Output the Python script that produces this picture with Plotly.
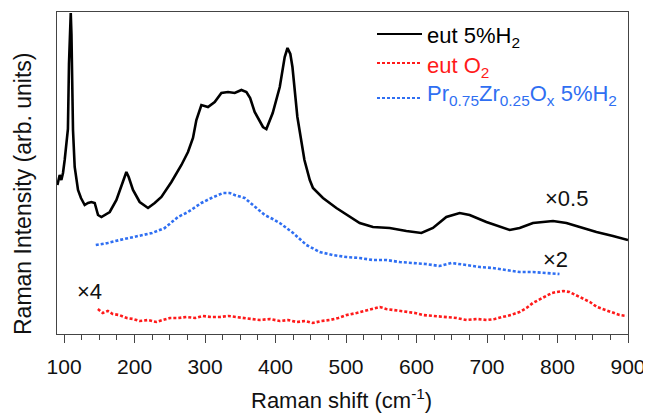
import plotly.graph_objects as go

# ---------------- data ----------------
eut_h2_shift = [90.6, 93.8, 96.2, 98.5, 100.9, 103, 105.5, 107, 108.3, 109.5, 110.5, 111.5,
                112.7, 115.1, 119.8, 124, 129.3, 134, 138.8, 143.5, 148.2, 153, 157.7, 164.8,
                174.3, 181.3, 188.4, 191.7, 197.8, 207.3, 219.1, 228.6, 238.1, 252.3, 266.5,
                275.8, 282.9, 287.7, 294.8, 304.2, 313.7, 323.2, 332.6, 342.1, 351.6, 358.7,
                364, 370.4, 382.2, 387, 396, 406, 413, 417, 421, 424, 431, 441, 448.6, 453.1,
                467.3, 486.3, 505.2, 519.4, 538.2, 561.9, 585.6, 606.9, 623.3, 642.3, 661.2,
                675.4, 699.1, 732.2, 746.3, 765.2, 793.6, 812.6, 831.5, 855.2, 878.7, 897.7, 900]
eut_h2_int = [149, 159, 154, 161, 174, 188, 205, 270, 315, 321, 300, 250,
              204, 167, 144, 136, 129, 131, 132, 131, 119, 117, 119, 122,
              134, 147, 162, 157, 144, 132, 126, 131, 137, 152, 169,
              182, 196, 214, 229, 227, 232, 241, 242, 241, 244, 242,
              236, 222, 207, 205, 221, 247, 277, 286, 280, 267, 217, 174, 154, 146,
              136, 126, 117, 111, 107, 106, 103, 101, 106, 117, 121,
              119, 112, 104, 106, 111, 113, 111, 107, 102, 98, 95, 94]

eut_o2_shift = [148, 155, 162, 169, 178, 189, 198, 207, 219, 231, 240, 250, 262, 274, 286, 297,
                309, 321, 333, 345, 361, 377, 392, 406, 418, 430, 442, 453, 465, 477, 489,
                501, 515, 532, 548, 557, 566, 576, 586, 598, 609, 626, 643, 657, 671, 686,
                700, 711, 722, 734, 746, 756, 765, 775, 785, 792, 799, 808, 817, 826, 836,
                846, 856, 867, 878, 888, 898]
eut_o2_int = [25, 21, 23, 20, 19, 16, 15, 13, 14, 12, 14, 16, 16, 17, 16, 18,
              17, 17, 18, 17, 16, 14, 15, 13, 14, 12, 13, 11, 13, 14, 16,
              19, 21, 24, 27, 25, 24, 23, 22, 21, 19, 18, 17, 16, 14, 15,
              14, 15, 17, 19, 22, 26, 31, 35, 39, 41, 42, 43, 42, 39, 36,
              32, 27, 24, 21, 19, 18]

przr_shift = [145, 162, 179, 193, 207, 225, 242.8, 261.6, 275.8, 294.8, 309, 325.5, 335,
              342, 356.2, 370.4, 384.6, 396, 406, 425, 443.8, 462.7, 481, 500.5, 519,
              538.2, 557.2, 576, 594.9, 613, 632.6, 649.4, 670.6, 690, 708.4, 727, 746.1,
              765, 783.9, 802.8]
przr_int = [89, 91, 94, 96, 98, 101, 106, 117, 122, 131, 136, 141, 141,
            139, 136, 127, 119, 115, 111, 101, 89, 82, 79, 77, 76,
            74, 74, 72, 71, 70, 68, 71, 69, 67, 66, 64, 62,
            62, 61, 60]

series_names = ["eut 5%H<sub>2</sub>", "eut O<sub>2</sub>",
                "Pr<sub>0.75</sub>Zr<sub>0.25</sub>O<sub>x</sub> 5%H<sub>2</sub>"]
scale_labels = ["×0.5", "×4", "×2"]
x_ticks = [100, 200, 300, 400, 500, 600, 700, 800, 900]

# ---------------- styling ----------------
FONT = "Arial, Liberation Sans, sans-serif"
BLACK = "#000000"
RED = "#ff1a1a"
BLUE = "#2f6ff2"
OFF = 8                       # page body margin in the browser
W, H = 651 - OFF, 414 - OFF
L, R, T, B = 57, 628, 12, 334  # plot-area edges in screen pixels


def px(x):
    return (x - L) / (R - L)


def py(y):
    return (B - y) / (B - T)


fig = go.Figure()
fig.add_trace(go.Scatter(x=eut_h2_shift, y=eut_h2_int, mode="lines",
                         line=dict(color=BLACK, width=2.6), name=series_names[0]))
fig.add_trace(go.Scatter(x=eut_o2_shift, y=eut_o2_int, mode="lines",
                         line=dict(color=RED, width=2.6, dash="3px,2px"), name=series_names[1]))
fig.add_trace(go.Scatter(x=przr_shift, y=przr_int, mode="lines",
                         line=dict(color=BLUE, width=2.6, dash="3px,2px"), name=series_names[2]))

shapes = []
annotations = []
# manual legend
leg_rows = [(34, 37, BLACK, "solid"), (63, 67, RED, "3px,2px"), (98, 95, BLUE, "3px,2px")]
for (ly, ty, col, dash), name in zip(leg_rows, series_names):
    shapes.append(dict(type="line", xref="paper", yref="paper",
                       x0=px(377), x1=px(422), y0=py(ly), y1=py(ly),
                       line=dict(color=col, width=2.2, dash=dash)))
    annotations.append(dict(xref="paper", yref="paper", x=px(425), y=py(ty),
                            xanchor="left", yanchor="middle", showarrow=False,
                            text=name, font=dict(family=FONT, size=22, color=col)))

# scale factors
for txt, xv, yv in zip(scale_labels, [813, 136, 797], [136, 43, 75]):
    annotations.append(dict(x=xv, y=yv, xref="x", yref="y", text=txt, showarrow=False,
                            xanchor="center", yanchor="middle",
                            font=dict(family=FONT, size=22, color="#111111")))

# axis titles
annotations.append(dict(xref="paper", yref="paper", x=px(341), y=py(399),
                        text="Raman shift (cm<sup>-1</sup>)", showarrow=False,
                        xanchor="center", yanchor="middle",
                        font=dict(family=FONT, size=22, color="#111111")))
annotations.append(dict(xref="paper", yref="paper", x=px(23), y=py(194),
                        text="Raman Intensity (arb. units)", showarrow=False, textangle=-90,
                        xanchor="center", yanchor="middle",
                        font=dict(family=FONT, size=23, color="#111111")))

fig.update_layout(
    width=W, height=H,
    margin=dict(l=L - OFF, r=W - (R - OFF), t=T - OFF, b=H - (B - OFF)),
    paper_bgcolor="white", plot_bgcolor="white",
    showlegend=False,
    shapes=shapes, annotations=annotations,
    xaxis=dict(range=[90, 900], tickvals=x_ticks, ticktext=[str(v) for v in x_ticks],
               ticks="outside", ticklen=8, tickwidth=1, tickcolor="#444444",
               minor=dict(dtick=25, tick0=100, ticks="outside", ticklen=5, tickwidth=1,
                          tickcolor="#444444"),
               showline=True, linecolor="#444444", linewidth=1, mirror=True,
               showgrid=False, zeroline=False, ticklabelstandoff=6,
               tickfont=dict(family=FONT, size=21, color="#111111")),
    yaxis=dict(range=[0, 322], showticklabels=False, ticks="",
               showline=True, linecolor="#444444", linewidth=1, mirror=True,
               showgrid=False, zeroline=False),
)

fig.write_html("out.html")
